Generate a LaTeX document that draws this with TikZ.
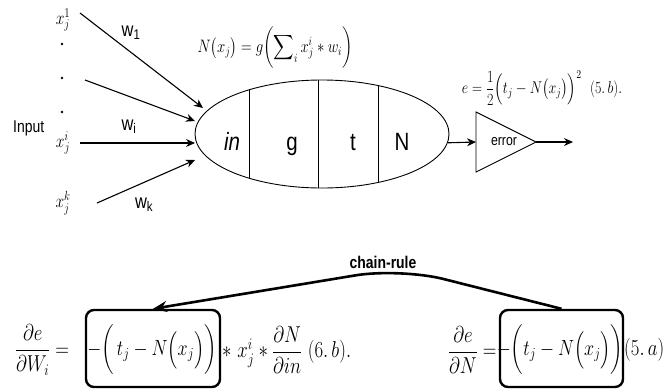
\RequirePackage{fix-cm}
\documentclass[tikz,border=0pt]{standalone}
\usepackage{fontspec}
\usepackage{amsmath}
\usepackage{graphicx}
\setsansfont{Liberation Sans}
\usetikzlibrary{arrows.meta,shapes.geometric}

\newcommand{\nar}[1]{\scalebox{0.82}[1]{#1}}

\tikzset{
  lbl/.style={font=\sffamily\fontsize{17}{17}\selectfont, inner sep=0pt},
  wlbl/.style={font=\sffamily\fontsize{20}{20}\selectfont, inner sep=0pt},
  cell/.style={font=\sffamily\fontsize{25}{25}\selectfont, inner sep=0pt, anchor=base},
  topeq/.style={font=\fontsize{19}{19}\selectfont, inner sep=0pt},
  boteq/.style={font=\fontsize{23}{23}\selectfont, inner sep=0pt},
  inarrow/.style={-{Stealth[length=9pt,width=8pt]}, line width=1.1pt},
  frame/.style={draw, rounded corners=8pt, line width=2.4pt, inner sep=0pt,
    minimum width=134pt, minimum height=77pt},
  chain/.style={-{Stealth[length=14pt,width=11pt]}, line width=2.6pt, rounded corners=45pt},
}

\begin{document}
\begin{tikzpicture}[x=1pt, y=-1pt]
    \useasboundingbox (0,0) rectangle (671,391);

    % neuron body
    \node[draw, ellipse, minimum width=254pt, minimum height=108pt, inner sep=0pt,
      line width=0.9pt] (neuron) at (322,134) {};
    \begin{scope}
      \clip (neuron.center) ellipse [x radius=127pt, y radius=54pt];
      \foreach \xd in {249,318,378}
        \draw[line width=0.9pt] (\xd,70) -- (\xd,200);
    \end{scope}

    \node[cell] (cin) at (232,150) {\nar{\itshape in}};
    \node[cell] (cg) at (292,150) {\nar{g}};
    \node[cell] (ct) at (353,150) {\nar{t}};
    \node[cell] (cN) at (402,150) {\nar{N}};

    % inputs
    \node[lbl, anchor=west] (inp) at (13,128) {\nar{Input}};
    \node[topeq] (x1) at (63,20) {\nar{$x_j^1$}};
    \node[topeq] (xi) at (63,143) {\nar{$x_j^i$}};
    \node[topeq] (xk) at (63,203) {\nar{$x_j^k$}};
    \foreach \yd in {44,78,112}
      \fill (62,\yd) circle (1.4pt);

    \coordinate (s1) at (80,13);  \coordinate (e1) at (203,108);
    \coordinate (s2) at (85,80);  \coordinate (e2) at (195,121);
    \coordinate (s3) at (80,143); \coordinate (e3) at (195,143);
    \coordinate (s4) at (97,203); \coordinate (e4) at (195,160);
    \foreach \k in {1,2,3,4}
      \draw[inarrow] (s\k) -- (e\k);

    % weights
    \node[wlbl] (w1) at (131,33) {\nar{w\textsubscript{1}}};
    \node[wlbl] (wi) at (129,127) {\nar{w\textsubscript{i}}};
    \node[wlbl] (wk) at (144,205) {\nar{w\textsubscript{k}}};

    % output and error
    \coordinate (errin) at (476,142);
    \coordinate (errtip) at (536,142);
    \coordinate (out) at (573,142);
    \draw[line width=0.9pt] (476,112) -- (errtip) -- (476,172) -- cycle;
    \node[lbl, font=\sffamily\fontsize{15}{15}\selectfont] (err) at (504,142) {\nar{error}};
    \draw[inarrow] (neuron.-4) -- (errin);
    \draw[inarrow] (errtip) -- (out);

    % formulas on top
    \node[topeq, font=\fontsize{18}{18}\selectfont] (Neq) at (275,48)
      {\nar{$N\bigl(x_j\bigr) = g\biggl(\displaystyle\sum\nolimits_i x_j^i * w_i\biggr)$}};
    \node[topeq, font=\fontsize{17}{17}\selectfont] (eeq) at (542,88)
      {\nar{$e = \dfrac{1}{2}\Bigl(t_j - N\bigl(x_j\bigr)\Bigr)^{2}\ \ (5.\,b).$}};

    % gradient formulas
    \node[frame] (box1) at (153,348.5) {};
    \node[frame, minimum width=123pt] (box2) at (561.5,348.5) {};

    \node[boteq, anchor=west] (dW) at (15,350) {\nar{$\dfrac{\partial e}{\partial W_i} =$}};
    \node[boteq, font=\fontsize{22}{22}\selectfont] (g1) at (152,350) {\nar{$-\biggl(\,t_j - N\Bigl(x_j\Bigr)\biggr)$}};
    \node[boteq, anchor=west] (rest) at (222,350)
      {\nar{$*\ x_j^i * \dfrac{\partial N}{\partial in}\ (6.\,b).$}};

    \node[boteq, anchor=west] (dN) at (448,350) {\nar{$\dfrac{\partial e}{\partial N} =$}};
    \node[boteq, font=\fontsize{22}{22}\selectfont] (g2) at (560,350) {\nar{$-\biggl(t_j - N\Bigl(x_j\Bigr)\biggr)$}};
    \node[boteq, anchor=west] (ref5a) at (624,350) {\nar{$(5.\,a)$}};

    % chain rule
    \node[lbl, font=\sffamily\bfseries\fontsize{17}{17}\selectfont] (cr) at (383,262) {\nar{chain-rule}};
    \draw[chain] (box2.north) -- (400,268) -- (box1.north);

\end{tikzpicture}
\end{document}
